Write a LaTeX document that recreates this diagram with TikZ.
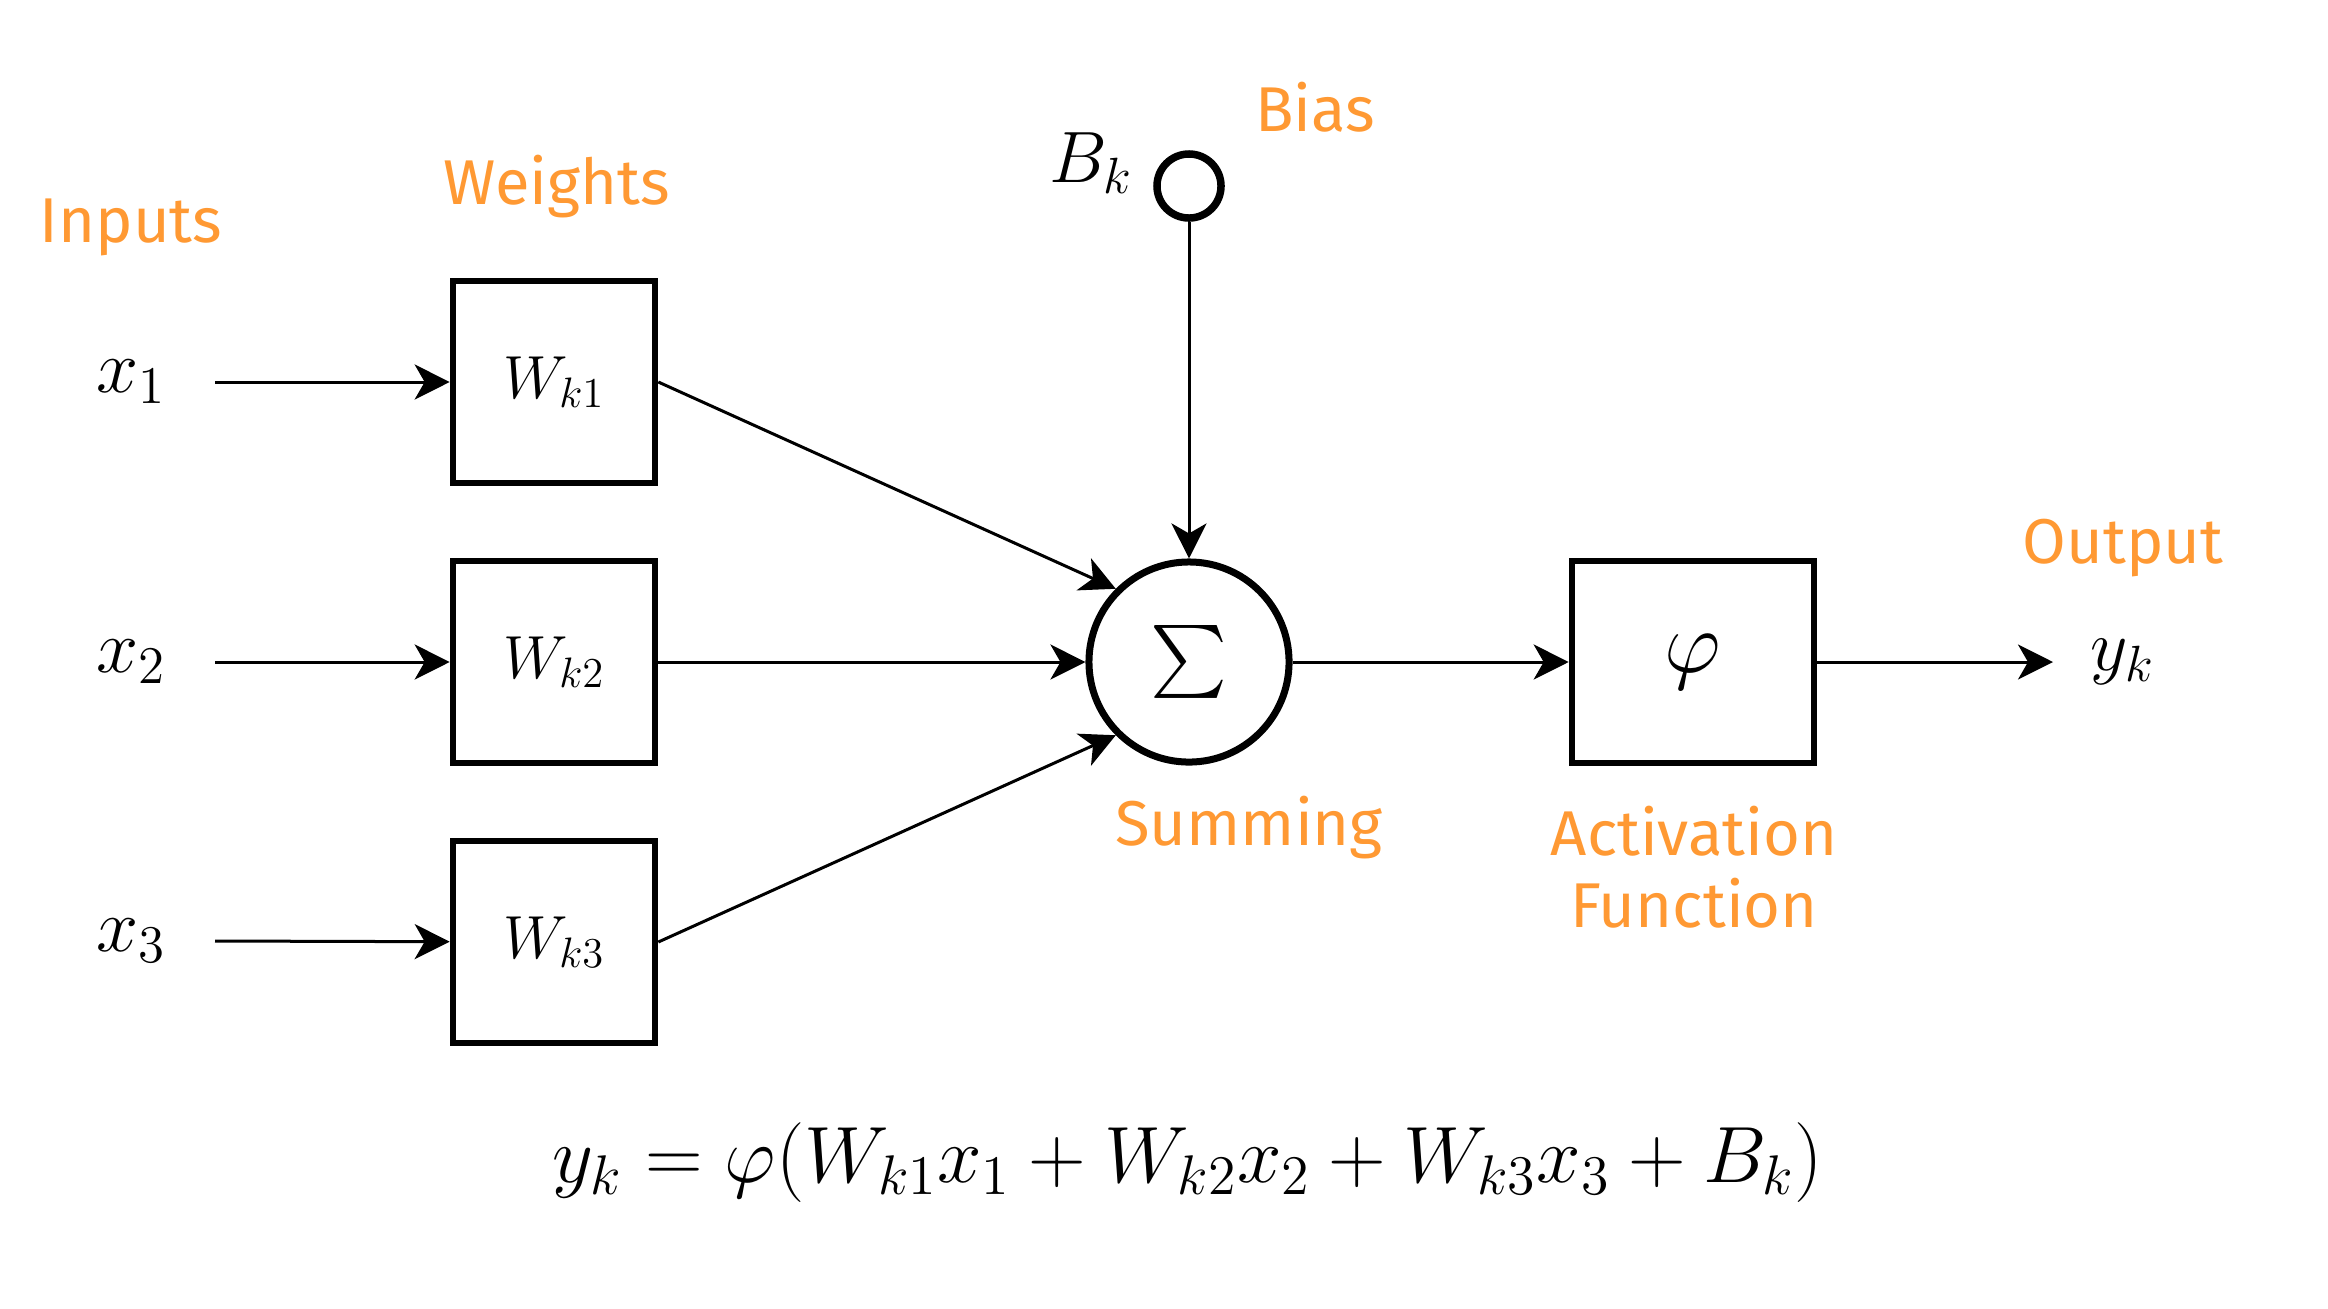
\RequirePackage{fix-cm}
\documentclass[tikz,border=0pt]{standalone}
\usepackage{exscale}
\usepackage{fontspec}
\newfontfamily\lblfont{Fira Sans}
\usetikzlibrary{arrows.meta}
\definecolor{lblorange}{HTML}{FF9933}

\begin{document}
\begin{tikzpicture}[x=0.01cm,y=-0.01cm,
  wire/.style={line width=0.03cm, -{Stealth[length=0.35cm,width=0.35cm,inset=0.1cm]}},
  box/.style={draw, line width=0.065cm, minimum width=2.02cm, minimum height=2.02cm, inner sep=0pt},
  lbl/.style={text=lblorange, font=\lblfont\fontsize{18}{20.5}\selectfont, align=center},
  mth/.style={font=\fontsize{21.5}{26}\selectfont, inner sep=0pt}]

  \useasboundingbox[fill=white] (0,0) rectangle (2328,1308);

  % inputs
  \node[mth] (x1) at (131,382) {$x_1$};
  \node[mth] (x2) at (131,662) {$x_2$};
  \node[mth] (x3) at (131,941) {$x_3$};
  \coordinate (s1) at (215,382);
  \coordinate (s2) at (215,662);
  \coordinate (s3) at (215,941);

  % weight boxes
  \node[box, font=\fontsize{17.3}{20}\selectfont] (w1) at (554,382) {$W_{k1}$};
  \node[box, font=\fontsize{17.3}{20}\selectfont] (w2) at (554,662) {$W_{k2}$};
  \node[box, font=\fontsize{17.3}{20}\selectfont] (w3) at (554,942) {$W_{k3}$};

  % summing junction and bias
  \node[draw, circle, line width=0.07cm, minimum size=2cm, inner sep=0pt,
        font=\fontsize{21}{26}\selectfont] (sum) at (1189,662) {$\sum$};
  \node[draw, circle, line width=0.075cm, minimum size=0.64cm, inner sep=0pt] (bias) at (1189,186) {};
  \node[mth, font=\fontsize{20.7}{25}\selectfont] (bk) at (1091,163) {$B_k$};

  % activation and output
  \node[box, minimum width=2.42cm, font=\fontsize{25}{30}\selectfont] (act) at (1693,662) {$\varphi$};
  \coordinate (out) at (2053,662);
  \node[mth, font=\fontsize{20.7}{25}\selectfont] (yk) at (2123,662) {$y_k$};

  % connectors
  \draw[wire] (s1) -- (w1);
  \draw[wire] (s2) -- (w2);
  \draw[wire] (s3) -- (w3);
  \draw[wire] (w1.east) -- (sum.135);
  \draw[wire] (w2.east) -- (sum.west);
  \draw[wire] (w3.east) -- (sum.225);
  \draw[wire] (bias.south) -- (sum.north);
  \draw[wire] (sum.east) -- (act.west);
  \draw[wire] (act.east) -- (out);

  % captions
  \node[lbl] (tin)  at (131,227)  {Inputs};
  \node[lbl] (tw)   at (557,187)  {Weights};
  \node[lbl] (tb)   at (1315,107) {Bias};
  \node[lbl] (tsum) at (1249,828) {Summing};
  \node[lbl] (tact) at (1694,867) {Activation\\Function};
  \node[lbl] (tout) at (2123,548) {Output};

  % neuron equation
  \node[font=\fontsize{22.7}{27}\selectfont] (eq) at (1188,1163)
    {$y_k = \varphi(W_{k1}x_1 + W_{k2}x_2 + W_{k3}x_3 + B_k)$};
\end{tikzpicture}
\end{document}
